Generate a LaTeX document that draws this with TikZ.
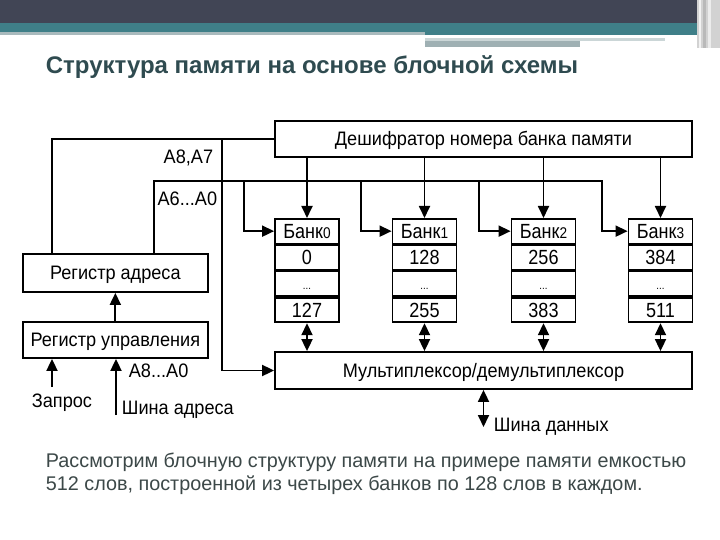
\documentclass[tikz,border=0pt]{standalone}
\usepackage{fontspec}
\setmainfont{Liberation Sans}
\newfontfamily\dfont[FakeStretch=0.93]{Liberation Sans}
\newfontfamily\bfont[FakeStretch=0.88]{Liberation Sans}
\usetikzlibrary{arrows.meta}
\definecolor{hdark}{HTML}{414555}
\definecolor{hteal}{HTML}{3F7F88}
\definecolor{hlight}{HTML}{A9BABD}
\definecolor{hgray}{HTML}{9FB0B3}
\definecolor{titlec}{HTML}{2F4B50}
\definecolor{bodyc}{HTML}{3C4848}
\newcommand{\bn}[1]{{\fontsize{15.5}{16}\selectfont #1}}
\newcommand{\dts}{\raisebox{2pt}{\fontsize{11}{12}\selectfont ...}}
\begin{document}
\begin{tikzpicture}[x=1pt,y=-1pt,line width=1.8pt,
  box/.style={draw,rectangle,inner sep=0pt,text height=13.5pt,text depth=0pt,font=\dfont\fontsize{19.5}{20}\selectfont},
  cell/.style={draw,rectangle,inner sep=0pt,minimum width=64pt,minimum height=24.5pt,text height=14.5pt,text depth=0pt,font=\bfont\fontsize{20.5}{22}\selectfont,anchor=north},
  arr/.style={-{Triangle[length=12pt,width=11pt]}},
  darr/.style={{Triangle[length=12pt,width=11pt]}-{Triangle[length=12pt,width=11pt]}},
  lbl/.style={inner sep=0pt,text height=13.5pt,text depth=0pt,font=\dfont\fontsize{19.5}{20}\selectfont}]
\useasboundingbox (0,0) rectangle (720,540);
\fill[white] (0,0) rectangle (720,540);
% header
\fill[hdark] (0,0) rectangle (697,23);
\fill[hteal] (0,23) rectangle (697,32);
\fill[hlight] (0,32) rectangle (425,35);
\fill[hteal] (425,32) rectangle (697,35);
\fill[hlight!60] (425,38) rectangle (665,41);
\fill[hgray] (425,41) rectangle (580,47);
\fill[gray!35] (697,0) rectangle (720,48);
\fill[gray!10] (699,0) rectangle (701,48);
\fill[gray!55] (703,0) rectangle (706,48);
\fill[gray!15] (708,0) rectangle (711,48);
% title and text
\node[anchor=base west,inner sep=0pt,font=\bfseries\fontsize{24}{26}\selectfont,text=titlec] (title) at (45,74) {Структура памяти на основе блочной схемы};
\node[anchor=base west,inner sep=0pt,font=\fontsize{19.8}{24}\selectfont,text=bodyc] (t1) at (45,467) {Рассмотрим блочную структуру памяти на примере памяти емкостью};
\node[anchor=base west,inner sep=0pt,font=\fontsize{19.8}{24}\selectfont,text=bodyc] (t2) at (45,490) {512 слов, построенной из четырех банков по 128 слов в каждом.};
% boxes
\node[box,minimum width=417pt,minimum height=36pt] (dec) at (483.5,139) {Дешифратор номера банка памяти};
\node[box,minimum width=185.3pt,minimum height=38pt] (ra) at (115.35,273) {Регистр адреса};
\node[box,minimum width=185.3pt,minimum height=36pt] (rc) at (115.35,340) {Регистр управления};
\node[box,minimum width=417pt,minimum height=37pt] (mux) at (483.5,370.5) {Мультиплексор/демультиплексор};
% banks
\node[cell] (b0t) at (307,218) {Банк\bn{0}};
\node[cell] (b0a) at (b0t.south) {0};
\node[cell] (b0b) at (b0a.south) {\dts};
\node[cell] (b0c) at (b0b.south) {127};
\node[cell] (b1t) at (424.5,218) {Банк\bn{1}};
\node[cell] (b1a) at (b1t.south) {128};
\node[cell] (b1b) at (b1a.south) {\dts};
\node[cell] (b1c) at (b1b.south) {255};
\node[cell] (b2t) at (543.5,218) {Банк\bn{2}};
\node[cell] (b2a) at (b2t.south) {256};
\node[cell] (b2b) at (b2a.south) {\dts};
\node[cell] (b2c) at (b2b.south) {383};
\node[cell] (b3t) at (660.5,218) {Банк\bn{3}};
\node[cell] (b3a) at (b3t.south) {384};
\node[cell] (b3b) at (b3a.south) {\dts};
\node[cell] (b3c) at (b3b.south) {511};
% coordinates
\coordinate (xa) at (52,0);
\coordinate (xb) at (154,0);
\coordinate (j1) at (222,139);
\coordinate (k0) at (244,181);
\coordinate (k1) at (361,181);
\coordinate (k2) at (479,181);
\coordinate (k3) at (602,181);
\coordinate (q1) at (52,387);
\coordinate (q2) at (116,415);
\coordinate (q3) at (483.5,427);
% address lines
\draw (ra.north -| xa) |- (dec.west);
\draw[arr] (j1) |- (mux.west);
\draw[arr] (ra.north -| xb) |- (k3) |- (b3t.west);
\draw[arr] (k0) |- (b0t.west);
\draw[arr] (k1) |- (b1t.west);
\draw[arr] (k2) |- (b2t.west);
% decoder arrows
\draw[arr] (dec.south -| b0t.north) -- (b0t.north);
\draw[arr] (dec.south -| b1t.north) -- (b1t.north);
\draw[arr] (dec.south -| b2t.north) -- (b2t.north);
\draw[arr] (dec.south -| b3t.north) -- (b3t.north);
% data arrows
\draw[darr] (b0c.south) -- (b0c.south |- mux.north);
\draw[darr] (b1c.south) -- (b1c.south |- mux.north);
\draw[darr] (b2c.south) -- (b2c.south |- mux.north);
\draw[darr] (b3c.south) -- (b3c.south |- mux.north);
\draw[darr] (mux.south) -- (q3);
% control
\draw[arr] (rc.north) -- (ra.south);
\draw[arr] (q1) -- (q1 |- rc.south);
\draw[arr] (q2) -- (q2 |- rc.south);
% labels
\node[lbl,anchor=east] (l1) at (214,157) {A8,A7};
\node[lbl,anchor=east] (l2) at (218,199) {A6...A0};
\node[lbl,anchor=west] (l3) at (128,371) {A8...A0};
\node[lbl] (l4) at (62,401) {Запрос};
\node[lbl,anchor=west] (l5) at (121,408) {Шина адреса};
\node[lbl,anchor=west] (l6) at (493,425) {Шина данных};
\end{tikzpicture}
\end{document}
